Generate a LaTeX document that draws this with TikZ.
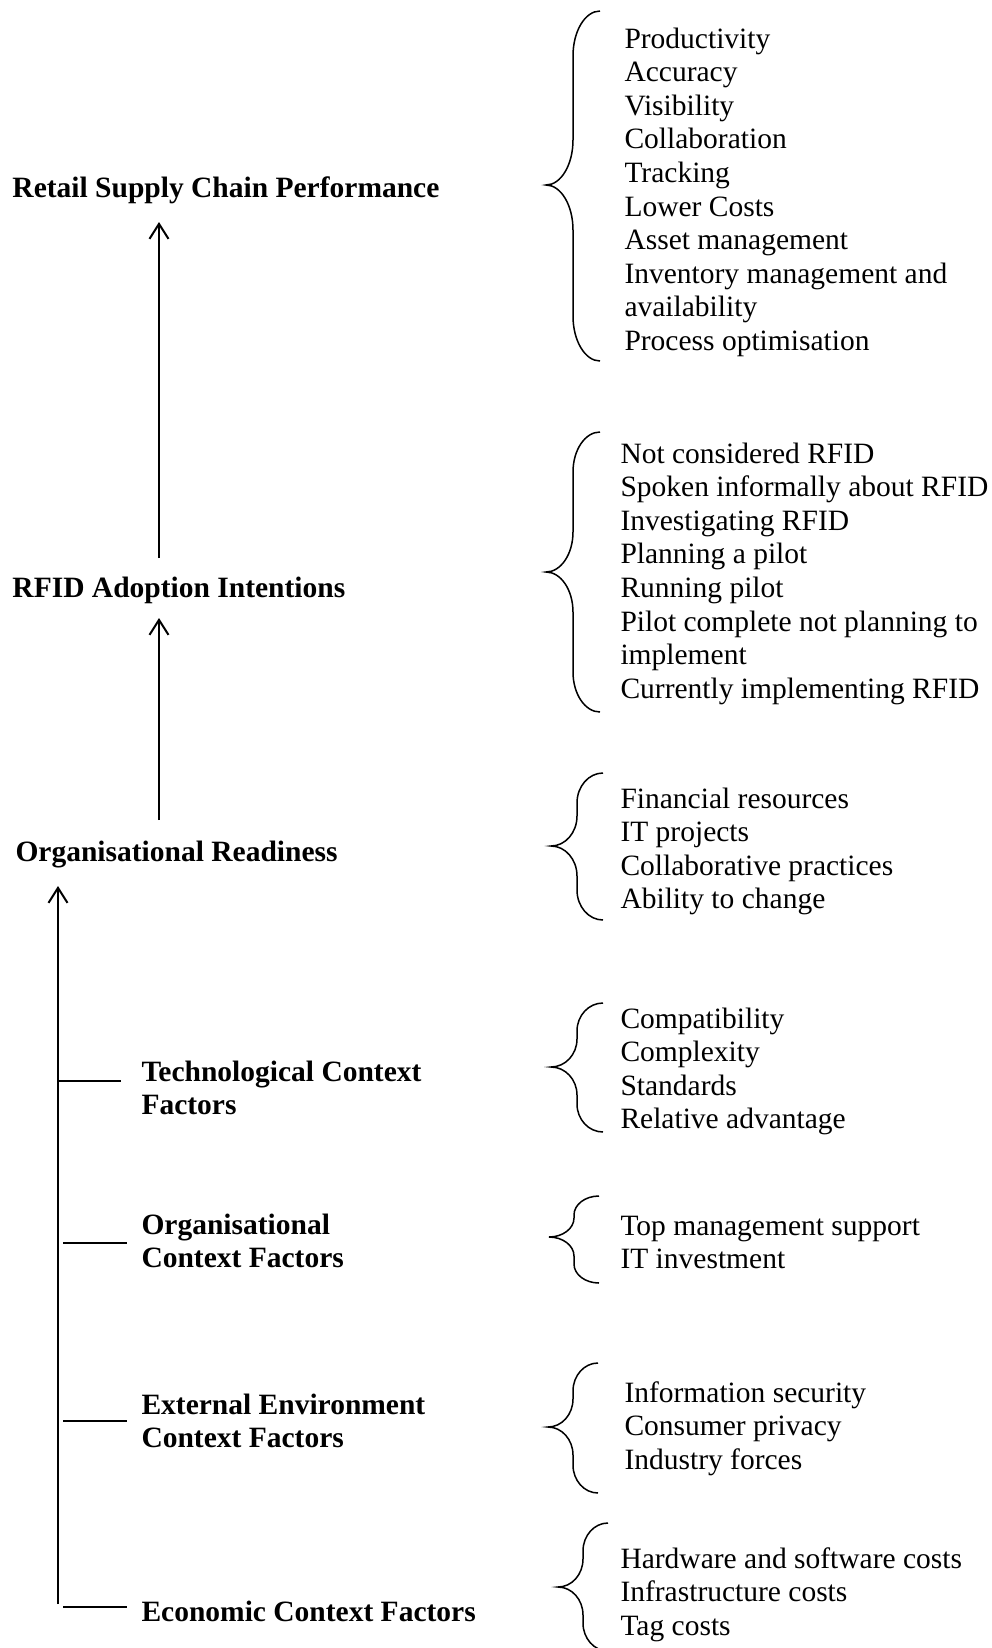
\documentclass[tikz,border=0pt]{standalone}
\usepackage{fontspec}
\setmainfont{Liberation Serif}
\usetikzlibrary{arrows.meta}

% body text size and line pitch
\newcommand\basefont{\fontsize{11.8pt}{13.44pt}\selectfont}
\newcommand\lines[1]{\begin{tabular}[t]{@{}l@{}}#1\end{tabular}}

% left-opening curly brace: tip x, tip y, end x, top y, bottom y, bend;
% each bend is a quarter-ellipse between the spine and an end or the tip
\newcommand\curlybrace[6]{%
  \pgfmathsetmacro\bm{(#1+#3)/2}%
  \pgfmathsetmacro\bh{0.552*(#3-#1)/2}%
  \pgfmathsetmacro\bv{0.448*#6}%
  \draw[brc] (#3,#4) .. controls ({#3-\bh},#4) and (\bm,{#4+\bv}) .. (\bm,{#4+#6})
    -- (\bm,{#2-#6}) .. controls (\bm,{#2-\bv}) and ({#1+\bh},#2) .. (#1,#2)
    .. controls ({#1+\bh},#2) and (\bm,{#2+\bv}) .. (\bm,{#2+#6})
    -- (\bm,{#5-#6}) .. controls (\bm,{#5-\bv}) and ({#3-\bh},#5) .. (#3,#5);}

\begin{document}
\begin{tikzpicture}[x=0.4pt,y=-0.4pt,
  every node/.style={inner sep=0pt, anchor=base west, font=\basefont},
  heading/.style={font=\basefont\bfseries},
  items/.style={},
  arr/.style={line width=0.8pt, -{Straight Barb[length=6pt,width=7.6pt,line width=0.8pt]}},
  link/.style={line width=0.8pt},
  brc/.style={line width=0.6pt}]

\useasboundingbox (0,0) rectangle (992,1648);

% factor headings
\node[heading] (perf)  at (12,197) {Retail Supply Chain Performance};
\node[heading] (rfid)  at (12,597) {RFID Adoption Intentions};
\node[heading] (ready) at (15,861) {Organisational Readiness};
\node[heading] (tech)  at (141,1081) {\lines{Technological Context\\Factors}};
\node[heading] (org)   at (141,1234) {\lines{Organisational\\Context Factors}};
\node[heading] (ext)   at (141,1414) {\lines{External Environment\\Context Factors}};
\node[heading] (econ)  at (141,1621) {Economic Context Factors};

% item lists
\node[items] (l1) at (624,48) {\lines{Productivity\\Accuracy\\Visibility\\Collaboration\\Tracking\\Lower Costs\\Asset management\\Inventory management and\\availability\\Process optimisation}};
\node[items] (l2) at (620,463) {\lines{Not considered RFID\\Spoken informally about RFID\\Investigating RFID\\Planning a pilot\\Running pilot\\Pilot complete not planning to\\implement\\Currently implementing RFID}};
\node[items] (l3) at (620,808) {\lines{Financial resources\\IT projects\\Collaborative practices\\Ability to change}};
\node[items] (l4) at (620,1028) {\lines{Compatibility\\Complexity\\Standards\\Relative advantage}};
\node[items] (l5) at (620,1235) {\lines{Top management support\\IT investment}};
\node[items] (l6) at (624,1402) {\lines{Information security\\Consumer privacy\\Industry forces}};
\node[items] (l7) at (620,1568) {\lines{Hardware and software costs\\Infrastructure costs\\Tag costs}};

% braces
\curlybrace{546}{185}{600}{11}{361}{45}
\curlybrace{546}{572}{600}{432}{712}{40}
\curlybrace{551}{846}{603}{773}{920}{30}
\curlybrace{551}{1067}{603}{1003}{1132}{28}
\curlybrace{549}{1237}{599}{1196}{1283}{19}
\curlybrace{548}{1427}{598}{1363}{1493}{28}
\curlybrace{558}{1587}{608}{1523}{1651}{28}

% upward arrows
\coordinate (a1s) at (159,558);
\coordinate (a1e) at (159,222);
\coordinate (a2s) at (159,820);
\coordinate (a2e) at (159,618);
\coordinate (a3s) at (58,1604);
\coordinate (a3e) at (58,886);
\draw[arr] (a1s) -- (a1e);
\draw[arr] (a2s) -- (a2e);
\draw[arr] (a3s) -- (a3e);

% context factor ticks
\coordinate (t1) at (58,1081);
\coordinate (t2) at (63,1243);
\coordinate (t3) at (63,1421);
\coordinate (t4) at (63,1607);
\draw[link] (t1) -- ++(63,0);
\draw[link] (t2) -- ++(64,0);
\draw[link] (t3) -- ++(64,0);
\draw[link] (t4) -- ++(64,0);
\end{tikzpicture}
\end{document}
